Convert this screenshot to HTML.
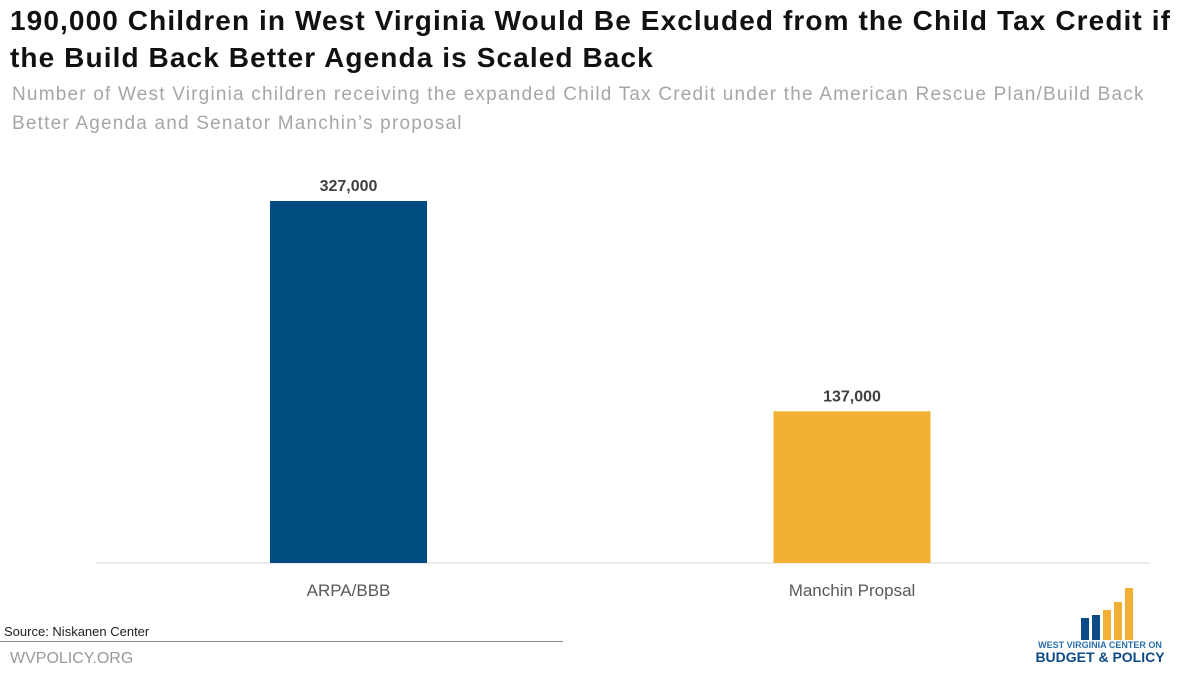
<!DOCTYPE html>
<html><head><meta charset="utf-8"><style>
body{margin:0;width:1200px;height:675px;background:#fff;font-family:"Liberation Sans",sans-serif;position:relative;overflow:hidden}
.t{position:absolute;left:10px;top:2px;font-size:28px;font-weight:bold;color:#111;line-height:37px;width:1190px;white-space:nowrap;letter-spacing:1.1px}
.s{position:absolute;left:12px;top:80px;font-size:19px;color:#a6a6a6;line-height:29px;width:1180px;white-space:nowrap;letter-spacing:1.2px}
.src{position:absolute;left:4px;top:624px;font-size:13px;color:#222}
.ln{position:absolute;left:0;top:641px;width:563px;height:1px;background:#888}
.wv{position:absolute;left:10px;top:650px;font-size:16px;color:#999}
</style></head><body>
<div class="t">190,000 Children in West Virginia Would Be Excluded from the Child Tax Credit if<br>the Build Back Better Agenda is Scaled Back</div>
<div class="s">Number of West Virginia children receiving the expanded Child Tax Credit under the American Rescue Plan/Build Back<br>Better Agenda and Senator Manchin’s proposal</div>
<svg id="c" width="1200" height="675" style="position:absolute;left:0;top:0"></svg>
<div class="src">Source: Niskanen Center</div>
<div class="ln"></div>
<div class="wv">WVPOLICY.ORG</div>
<svg width="200" height="95" style="position:absolute;left:1000px;top:580px">
<rect x="81" y="38" width="8" height="22" fill="#0d4b86"/><rect x="92" y="35" width="8" height="25" fill="#0d4b86"/>
<rect x="103" y="30" width="8" height="30" fill="#f2b134"/><rect x="114" y="22" width="8" height="38" fill="#f2b134"/><rect x="125" y="8" width="8" height="52" fill="#f2b134"/>
<text x="100" y="68" font-size="9" font-weight="bold" fill="#2a6fad" text-anchor="middle">WEST VIRGINIA CENTER ON</text>
<text x="100" y="82" font-size="14" font-weight="bold" fill="#0d4b86" text-anchor="middle">BUDGET &amp; POLICY</text>
</svg>
<script>
const categories=["ARPA/BBB","Manchin Propsal"];
const values=[327000,137000];
const valueLabels=["327,000","137,000"];
const colors=["#004c80","#f2b132"];
const svg=document.getElementById('c');
const NS="http://www.w3.org/2000/svg";
const base=563, top0=201, maxV=327000;
function y(v){return base-(v/maxV)*(base-top0);}
function xc(i){return 348.5+i*503.5;}
const bw=157;
function mk(t,a){const e=document.createElementNS(NS,t);for(const k in a)e.setAttribute(k,a[k]);svg.appendChild(e);return e;}
const ax=mk('line',{x1:96,x2:1150,y1:base,y2:base,stroke:'#d9d9d9','stroke-width':1});


categories.forEach((c,i)=>{
 const r=mk('rect',{x:xc(i)-bw/2,y:y(values[i]),width:bw,height:base-y(values[i]),fill:colors[i]});
 
 
 const l=mk('text',{x:xc(i),y:y(values[i])-10,'text-anchor':'middle','font-size':16,'font-weight':'bold',fill:'#404040'});
 l.textContent=valueLabels[i];
 
 
 const t=mk('text',{x:xc(i),y:596,'text-anchor':'middle','font-size':17,fill:'#595959'});
 t.textContent=c;
 
 
});
</script>
</body></html>
